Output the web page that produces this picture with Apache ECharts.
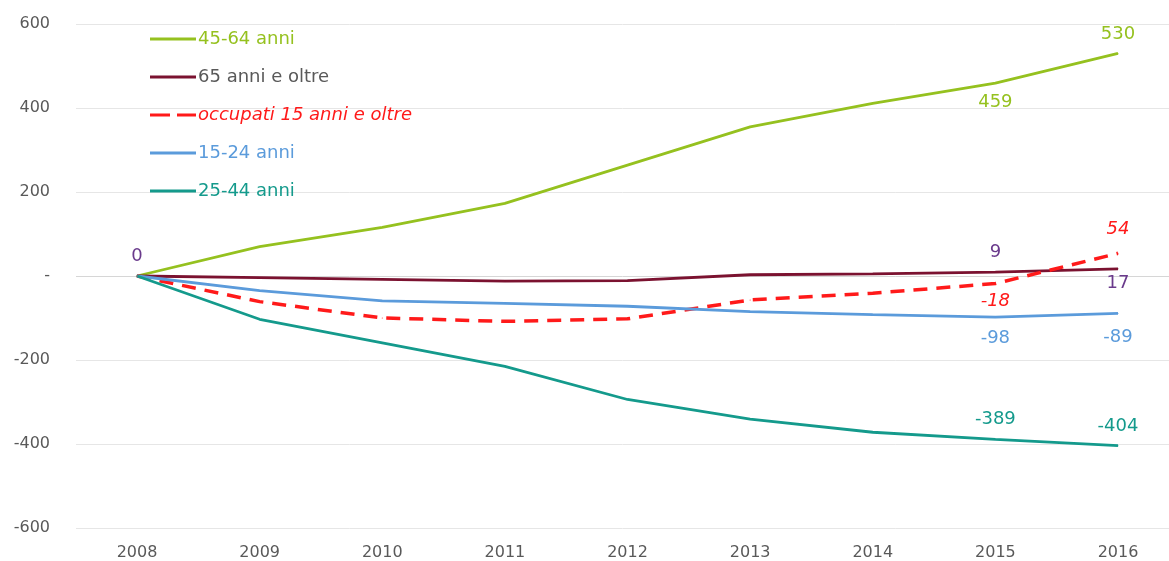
<!DOCTYPE html>
<html>
<head>
<meta charset="utf-8">
<script src="https://cdn.jsdelivr.net/npm/echarts@6/dist/echarts.min.js"></script>
<style>
  html, body { margin: 0; padding: 0; background: #fff; }
  #chart { width: 1169px; height: 561px; }
</style>
</head>
<body>
<div id="chart"></div>
<script>
// anni
var years = ['2008', '2009', '2010', '2011', '2012', '2013', '2014', '2015', '2016']
// variazione occupati (migliaia) rispetto al 2008
var eta4564 = [0, 70, 116, 173, 264, 355, 411, 459, 530]
var eta65 = [0, -4, -8, -12, -11, 3, 5, 9, 17]
var occupati = [0, -61, -100, -108, -102, -57, -41, -18, 54]
var eta1524 = [0, -35, -59, -65, -72, -85, -92, -98, -89]
var eta2544 = [0, -103, -159, -215, -294, -341, -372, -389, -404]

var font = 'DejaVu Sans'
var gridTop = 24, gridHeight = 504

// etichette da mostrare: indice -> [posizione, distanza]
function withLabels(values, marks, color, italic) {
  return values.map(function(v, i) {
    if (!marks[i]) return v
    return {
      value: v,
      label: {
        show: true,
        position: marks[i][0],
        distance: marks[i][1],
        color: color,
        fontSize: 18,
        fontFamily: font,
        fontStyle: italic ? 'italic' : 'normal'
      }
    }
  })
}

function lineSeries(name, color, data, dashed) {
  return {
    name: name,
    type: 'line',
    xAxisIndex: 1,
    yAxisIndex: 1,
    data: data,
    symbol: 'circle',
    symbolSize: 1,
    animation: false,
    lineStyle: { color: color, width: dashed ? 3.5 : 2.8, type: dashed ? [14, 9] : 'solid' },
    itemStyle: { color: color }
  }
}

var dashIcon = 'path://M0,0h20v3h-20z M27,0h19v3h-19z'

var chart = echarts.init(document.getElementById('chart'))
chart.setOption({
  backgroundColor: '#fff',
  grid: [
    // griglia di sfondo, su tutta la larghezza
    { left: 76, right: 0, top: gridTop, height: gridHeight },
    // area dei dati
    { left: 137, right: 51, top: gridTop, height: gridHeight }
  ],
  legend: {
    orient: 'vertical',
    left: 150,
    top: 30,
    padding: 0,
    itemWidth: 46,
    itemHeight: 3,
    itemGap: 20,
    textStyle: { fontFamily: font, fontSize: 18, padding: [0, 0, 0, -3] },
    data: [
      { name: '45-64 anni', icon: 'rect', textStyle: { color: '#95c11f' } },
      { name: '65 anni e oltre', icon: 'rect', textStyle: { color: '#595959' } },
      { name: 'occupati 15 anni e oltre', icon: dashIcon, textStyle: { color: '#ff1a1a', fontStyle: 'italic' } },
      { name: '15-24 anni', icon: 'rect', textStyle: { color: '#5b9bdb' } },
      { name: '25-44 anni', icon: 'rect', textStyle: { color: '#149a8c' } }
    ]
  },
  xAxis: [
    { gridIndex: 0, type: 'value', min: 0, max: 1, show: false },
    {
      gridIndex: 1,
      type: 'category',
      data: years,
      boundaryGap: false,
      axisLine: { show: false },
      axisTick: { show: false },
      splitLine: { show: false },
      axisLabel: { color: '#595959', fontSize: 16, fontFamily: font, margin: 17 }
    }
  ],
  yAxis: [
    {
      gridIndex: 0,
      type: 'value',
      min: -600,
      max: 600,
      interval: 200,
      axisLine: { show: false },
      axisTick: { show: false },
      axisLabel: {
        color: '#595959',
        fontSize: 16,
        fontFamily: font,
        margin: 26,
        formatter: function(v) { return v === 0 ? '-' : v }
      },
      splitLine: { lineStyle: { color: ['#e6e6e6', '#e6e6e6', '#e6e6e6', '#d6d6d6', '#e6e6e6', '#e6e6e6', '#e6e6e6'], width: 1 } }
    },
    {
      gridIndex: 1,
      type: 'value',
      min: -600,
      max: 600,
      interval: 200,
      show: false,
      splitLine: { show: false }
    }
  ],
  series: [
    lineSeries('45-64 anni', '#95c11f',
      withLabels(eta4564, { 7: ['bottom', 10], 8: ['top', 10] }, '#95c11f')),
    lineSeries('65 anni e oltre', '#7b1230',
      withLabels(eta65, { 0: ['top', 10], 7: ['top', 10], 8: ['bottom', 5] }, '#6a3a8c')),
    lineSeries('occupati 15 anni e oltre', '#ff1a1a',
      withLabels(occupati, { 7: ['bottom', 8], 8: ['top', 14] }, '#ff1a1a', true), true),
    lineSeries('15-24 anni', '#5b9bdb',
      withLabels(eta1524, { 7: ['bottom', 12], 8: ['bottom', 14] }, '#5b9bdb')),
    lineSeries('25-44 anni', '#149a8c',
      withLabels(eta2544, { 7: ['top', 11], 8: ['top', 10] }, '#149a8c'))
  ]
})
</script>
</body>
</html>
